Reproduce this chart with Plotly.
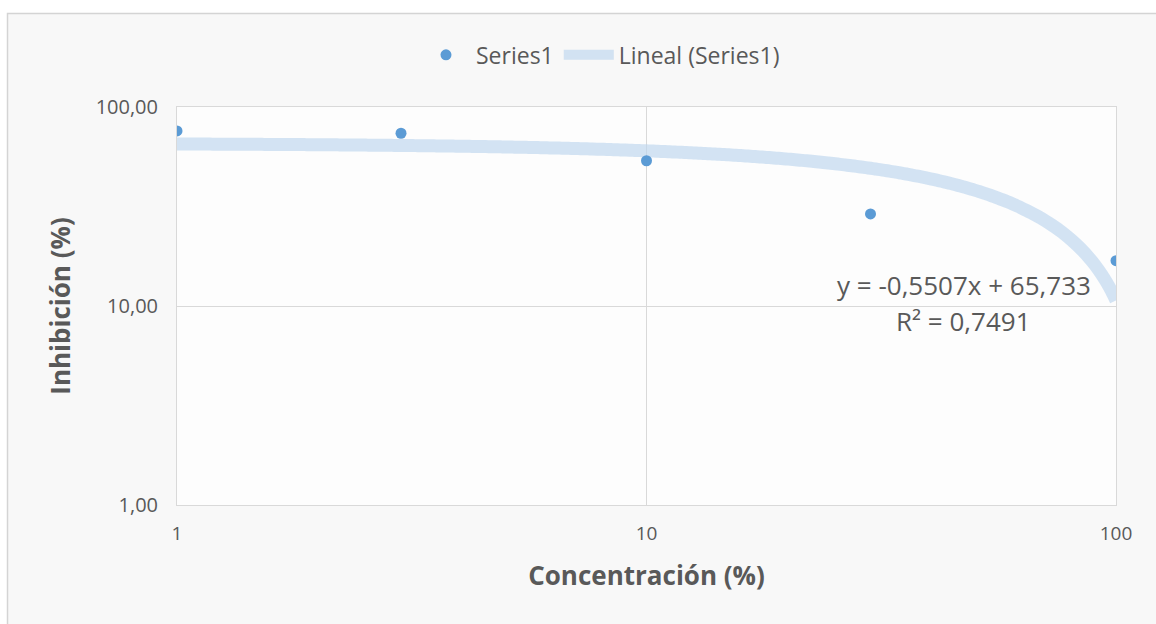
import numpy as np
import plotly.graph_objects as go

# Concentration (%) and inhibition (%) measurements
concentracion = [1, 3, 10, 30, 100]
inhibicion = [75.8, 73.8, 53.7, 29.0, 16.9]

# Linear trend reported for the series
pendiente = -0.5507
intercepto = 65.733
r2 = 0.7491

y_ticks = [1, 10, 100]
y_ticktext = ["1,00", "10,00", "100,00"]
x_ticks = [1, 10, 100]
x_ticktext = ["1", "10", "100"]

# Trend line sampled along the log x axis
x_tr = np.logspace(0, 2, 200)
y_tr = pendiente * x_tr + intercepto

grey = "#595959"
font_family = "Open Sans, Noto Sans, Liberation Sans, sans-serif"

fig = go.Figure()
fig.add_trace(go.Scatter(
    x=x_tr, y=y_tr, mode="lines", name="Lineal (Series1)",
    line=dict(color="rgba(189,214,238,0.65)", width=13, shape="spline"),
    hoverinfo="skip",
))
fig.add_trace(go.Scatter(
    x=concentracion, y=inhibicion, mode="markers", name="Series1",
    marker=dict(color="#5b9bd5", size=11),
))

fmt = lambda v: f"{v:.4f}".replace(".", ",")
eq_text = f"y = {pendiente:.4f}x + {intercepto:.3f}".replace(".", ",")
fig.add_annotation(x=1.676, y=1.106, xref="x", yref="y",
                   text=eq_text, showarrow=False, xanchor="center",
                   font=dict(size=26, color=grey, family=font_family))
fig.add_annotation(x=1.676, y=0.925, xref="x", yref="y",
                   text=f"R² = {fmt(r2)}", showarrow=False, xanchor="center",
                   font=dict(size=26, color=grey, family=font_family))

fig.update_layout(
    width=1156, height=624,
    margin=dict(l=177, r=40, t=107, b=119, autoexpand=False),
    paper_bgcolor="#f8f8f8", plot_bgcolor="#fdfdfd",
    font=dict(family=font_family, color=grey, size=18),
    showlegend=True,
    legend=dict(orientation="h", x=0.451, xanchor="center", y=1.131, yanchor="middle",
                font=dict(size=23, color=grey), traceorder="reversed",
                itemwidth=50, bgcolor="rgba(0,0,0,0)"),
    shapes=[
        # white surround outside the chart frame
        dict(type="rect", xref="paper", yref="paper", layer="below",
             x0=-0.2, x1=-0.1805, y0=-0.4, y1=1.3, fillcolor="white", line_width=0),
        dict(type="rect", xref="paper", yref="paper", layer="below",
             x0=-0.2, x1=1.1, y0=1.235, y1=1.3, fillcolor="white", line_width=0),
        # chart frame
        dict(type="rect", xref="paper", yref="paper",
             x0=-0.1805, x1=1.1, y0=-0.4, y1=1.235,
             line=dict(color="#d4d4d4", width=1.5)),
    ],
)
fig.update_xaxes(
    type="log", range=[0, 2], tickvals=x_ticks, ticktext=x_ticktext,
    showgrid=True, gridcolor="#d9d9d9", gridwidth=1,
    showline=True, linecolor="#d9d9d9", mirror=True,
    ticks="", tickfont=dict(size=19, color=grey), zeroline=False,
    ticklabelstandoff=11,
    title=dict(text="<b>Concentración (%)</b>", font=dict(size=26, color=grey), standoff=22),
)
fig.update_yaxes(
    type="log", range=[0, 2], tickvals=y_ticks, ticktext=y_ticktext,
    showgrid=True, gridcolor="#d9d9d9", gridwidth=1,
    showline=True, linecolor="#d9d9d9", mirror=True,
    ticks="", tickfont=dict(size=20, color=grey), zeroline=False,
    ticklabelstandoff=14,
    title=dict(text="<b>Inhibición (%)</b>", font=dict(size=26, color=grey), standoff=17),
)

fig.write_html("out.html")
